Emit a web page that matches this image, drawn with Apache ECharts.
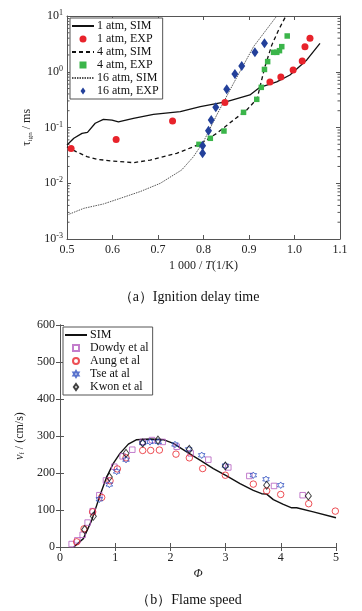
<!DOCTYPE html>
<html>
<head>
<meta charset="utf-8">
<script src="https://cdn.jsdelivr.net/npm/echarts@6/dist/echarts.min.js"></script>
<style>
  html, body { margin: 0; padding: 0; background: #fff; }
  #chart { width: 362px; height: 611px; }
</style>
</head>
<body>
<div id="chart"></div>
<script>
// (a) ignition delay time, tau_ign in ms vs 1000/T
const SIM1_X = [0.50, 0.515, 0.533, 0.545, 0.562, 0.580, 0.599, 0.613, 0.646, 0.690, 0.749, 0.793, 0.851, 0.902, 0.924, 0.961, 0.990, 1.027, 1.056]
const SIM1_Y = [0.0485, 0.064, 0.0785, 0.082, 0.119, 0.14, 0.136, 0.126, 0.146, 0.172, 0.192, 0.237, 0.29, 0.383, 0.525, 0.66, 0.875, 1.63, 3.24]
const EXP1_X = [0.509, 0.608, 0.732, 0.847, 0.946, 0.970, 0.997, 1.017, 1.023, 1.034]
const EXP1_Y = [0.042, 0.061, 0.131, 0.282, 0.654, 0.805, 1.07, 1.56, 2.82, 3.97]
const SIM4_X = [0.50, 0.52, 0.544, 0.566, 0.60, 0.646, 0.683, 0.741, 0.793, 0.829, 0.866, 0.895, 0.918, 0.926, 0.935, 0.95, 0.965, 0.981]
const SIM4_Y = [0.045, 0.037, 0.030, 0.0269, 0.025, 0.0234, 0.026, 0.0344, 0.0506, 0.0785, 0.136, 0.206, 0.33, 0.62, 1.23, 3.0, 5.6, 10]
const EXP4_X = [0.790, 0.815, 0.845, 0.888, 0.917, 0.927, 0.934, 0.941, 0.954, 0.961, 0.967, 0.972, 0.984]
const EXP4_Y = [0.0499, 0.064, 0.0865, 0.187, 0.32, 0.525, 1.10, 1.52, 2.23, 2.23, 2.39, 2.82, 4.38]
const SIM16_X = [0.50, 0.537, 0.580, 0.617, 0.661, 0.705, 0.752, 0.778, 0.800, 0.829, 0.866, 0.910, 0.961]
const SIM16_Y = [0.00269, 0.00355, 0.00425, 0.00536, 0.0071, 0.00997, 0.0173, 0.030, 0.0557, 0.167, 0.62, 2.82, 10]
const EXP16_X = [0.798, 0.798, 0.811, 0.817, 0.827, 0.851, 0.869, 0.884, 0.913, 0.934]
const EXP16_Y = [0.0344, 0.0472, 0.0877, 0.136, 0.230, 0.484, 0.912, 1.27, 2.23, 3.24]
// minor ticks of the log axis (2..9 per decade)
const MINOR_TICKS = [0.002, 0.003, 0.004, 0.005, 0.006, 0.007, 0.008, 0.009,
  0.02, 0.03, 0.04, 0.05, 0.06, 0.07, 0.08, 0.09,
  0.2, 0.3, 0.4, 0.5, 0.6, 0.7, 0.8, 0.9,
  2, 3, 4, 5, 6, 7, 8, 9]

// (b) flame speed, v_f in cm/s vs phi
const SIM_PHI = [0.25, 0.423, 0.574, 0.725, 0.845, 0.966, 1.087, 1.238, 1.389, 1.630, 1.872, 2.053, 2.295, 2.536, 2.778, 3.019, 3.261, 3.502, 3.653, 3.744, 3.865, 4.046, 4.197, 4.287, 4.589, 5.0]
const SIM_V = [0, 22.6, 72, 140, 189, 226, 253, 278, 290, 292, 290, 280, 257, 235, 212, 192, 171, 153, 144, 143, 128, 115, 106, 106, 95, 79]
const DOWDY_PHI = [0.211, 0.314, 0.411, 0.501, 0.592, 0.713, 0.833, 0.984, 1.135, 1.310, 1.498, 1.667, 1.860, 2.114, 2.367, 2.687, 3.049, 3.430, 3.877, 4.396]
const DOWDY_V = [8, 18, 33, 66, 97, 140, 180, 217, 245, 263, 284, 289, 284, 271, 253, 236, 215, 192, 165, 140]
const AUNG_PHI = [0.302, 0.435, 0.592, 0.755, 0.906, 1.039, 1.196, 1.498, 1.643, 1.800, 2.101, 2.343, 2.585, 2.995, 3.502, 3.744, 3.998, 4.505, 4.988]
const AUNG_V = [14, 49, 95, 134, 179, 211, 241, 261, 261, 262, 251, 241, 212, 194, 170, 152, 142, 117, 97]
const TSE_PHI = [0.713, 0.894, 1.027, 1.196, 1.498, 1.630, 1.781, 2.083, 2.331, 2.567, 2.995, 3.502, 3.732, 3.998]
const TSE_V = [129, 169, 204, 236, 281, 284, 284, 277, 264, 248, 220, 194, 183, 167]
const KWON_PHI = [0.447, 0.604, 0.894, 1.196, 1.498, 1.775, 2.343, 2.995, 3.744, 4.499]
const KWON_V = [47, 83, 189, 253, 281, 289, 264, 219, 167, 138]

const SERIF = '"Liberation Serif", "DejaVu Serif", serif'
const FRAME = '#555'
const HEXAGRAM = 'path://M10 0L12.887 5L18.66 5L15.77 10L18.66 15L12.887 15L10 20L7.113 15L1.34 15L4.23 10L1.34 5L7.113 5Z'
const SQUARE = 'path://M0 0H10V10H0Z'
const DIAMOND = 'path://M5 0L10 7L5 14L0 7Z'
const NO_MARK = { color: 'rgba(0,0,0,0)', borderColor: 'rgba(0,0,0,0)', borderWidth: 0 }

const zip = (xs, ys) => xs.map((x, i) => [x, ys[i]])

// legend entries: lines drawn without their marker, markers with their own shape
const LEGEND_A = [
  { name: '1 atm, SIM', itemStyle: NO_MARK },
  { name: '1 atm, EXP', icon: 'circle' },
  { name: '4 atm, SIM', itemStyle: NO_MARK },
  { name: '4 atm, EXP', icon: SQUARE },
  { name: '16 atm, SIM', itemStyle: NO_MARK },
  { name: '16 atm, EXP', icon: DIAMOND }
]
const LEGEND_B = [
  { name: 'SIM', itemStyle: NO_MARK },
  { name: 'Dowdy et al', icon: SQUARE },
  { name: 'Aung et al', icon: 'circle' },
  { name: 'Tse at al', icon: HEXAGRAM },
  { name: 'Kwon et al', icon: DIAMOND }
]

const chart = echarts.init(document.getElementById('chart'), null, { renderer: 'canvas' })

const baseAxis = {
  axisLine: { lineStyle: { color: FRAME, width: 1 } },
  axisTick: { inside: true, length: 4, lineStyle: { color: FRAME } },
  axisLabel: { color: '#222', fontFamily: SERIF, fontSize: 12 },
  splitLine: { show: false }
}
const mirror = extra => Object.assign({}, baseAxis, { axisLabel: { show: false } }, extra)

const legendBase = {
  orient: 'vertical', itemGap: 1, itemWidth: 22, itemHeight: 6, padding: [2, 4, 2, 1],
  backgroundColor: '#fff', borderColor: FRAME, borderWidth: 1, borderRadius: 0,
  symbolKeepAspect: true,
  textStyle: { fontFamily: SERIF, fontSize: 12, color: '#111', padding: [0, 0, 0, -2] }
}

const option = {
  animation: false,
  backgroundColor: '#fff',
  textStyle: { fontFamily: SERIF },
  title: [
    { text: '（a）Ignition delay time', left: 184, top: 285, textAlign: 'center',
      textStyle: { fontFamily: SERIF, fontSize: 14, fontWeight: 'normal', color: '#111' } },
    { text: '（b）Flame speed', left: 184, top: 588, textAlign: 'center',
      textStyle: { fontFamily: SERIF, fontSize: 14, fontWeight: 'normal', color: '#111' } }
  ],
  grid: [
    { left: 67, top: 16, width: 273, height: 223 },
    { left: 60, top: 325, width: 276, height: 222 }
  ],
  xAxis: [
    Object.assign({}, baseAxis, {
      gridIndex: 0, type: 'value', min: 0.5, max: 1.1, interval: 0.1,
      axisLabel: Object.assign({}, baseAxis.axisLabel, { margin: 5, formatter: v => v.toFixed(1) }),
      name: '1 000 / {i|T}(1/K)', nameLocation: 'middle', nameGap: 21,
      nameTextStyle: { fontFamily: SERIF, fontSize: 12, color: '#222',
        rich: { i: { fontStyle: 'italic', fontFamily: SERIF, fontSize: 12, color: '#222' } } }
    }),
    mirror({ gridIndex: 0, type: 'value', position: 'top', min: 0.5, max: 1.1, interval: 0.1 }),
    Object.assign({}, baseAxis, {
      gridIndex: 1, type: 'value', min: 0, max: 5, interval: 1,
      axisLabel: Object.assign({}, baseAxis.axisLabel, { margin: 5 }),
      name: 'Φ', nameLocation: 'middle', nameGap: 21,
      nameTextStyle: { fontFamily: SERIF, fontSize: 12, fontStyle: 'italic', color: '#222' }
    }),
    mirror({ gridIndex: 1, type: 'value', position: 'top', min: 0, max: 5, interval: 1 })
  ],
  yAxis: [
    Object.assign({}, baseAxis, {
      gridIndex: 0, type: 'log', logBase: 10, min: 0.001, max: 10,
      axisLabel: Object.assign({}, baseAxis.axisLabel, {
        margin: 4,
        formatter: v => '10{s|' + Math.round(Math.log10(v)) + '}',
        rich: { s: { fontSize: 8, verticalAlign: 'top', fontFamily: SERIF, color: '#222', padding: [0, 0, 6, 0] } }
      }),
      name: 'τ{s|ign} / ms', nameLocation: 'middle', nameGap: 33, nameRotate: 90,
      nameTextStyle: { fontFamily: SERIF, fontSize: 12, color: '#222',
        rich: { s: { fontSize: 7, fontFamily: SERIF, color: '#222', padding: [6, 0, 0, 0] } } }
    }),
    mirror({ gridIndex: 0, type: 'log', logBase: 10, min: 0.001, max: 10, position: 'right' }),
    Object.assign({}, baseAxis, {
      gridIndex: 1, type: 'value', min: 0, max: 600, interval: 100,
      axisLabel: Object.assign({}, baseAxis.axisLabel, { margin: 5 }),
      name: '{i|v}{s|f} / (cm/s)', nameLocation: 'middle', nameGap: 29, nameRotate: 90,
      nameTextStyle: { fontFamily: SERIF, fontSize: 12, color: '#222',
        rich: {
          i: { fontStyle: 'italic', fontFamily: SERIF, fontSize: 12, color: '#222' },
          s: { fontSize: 7, fontFamily: SERIF, color: '#222', padding: [6, 0, 0, 0] }
        } }
    }),
    mirror({ gridIndex: 1, type: 'value', min: 0, max: 600, interval: 100, position: 'right' })
  ],
  legend: [
    Object.assign({}, legendBase, { data: LEGEND_A, left: 70, top: 18, itemHeight: 7 }),
    Object.assign({}, legendBase, { data: LEGEND_B, left: 63, top: 327 })
  ],
  series: [
    // ---- (a) ----
    { name: '1 atm, SIM', type: 'line', xAxisIndex: 0, yAxisIndex: 0, symbol: 'none', z: 3,
      lineStyle: { color: '#111', width: 1.3 }, itemStyle: { color: '#111' }, data: zip(SIM1_X, SIM1_Y) },
    { name: '1 atm, EXP', type: 'scatter', xAxisIndex: 0, yAxisIndex: 0, symbol: 'circle', symbolSize: 7, z: 4,
      itemStyle: { color: '#e8232b', opacity: 1 }, data: zip(EXP1_X, EXP1_Y) },
    { name: '4 atm, SIM', type: 'line', xAxisIndex: 0, yAxisIndex: 0, symbol: 'none', z: 3,
      lineStyle: { color: '#111', width: 1.3, type: [4, 3] }, itemStyle: { color: '#111' }, data: zip(SIM4_X, SIM4_Y) },
    { name: '4 atm, EXP', type: 'scatter', xAxisIndex: 0, yAxisIndex: 0, symbol: 'rect', symbolSize: 5.5, z: 4,
      itemStyle: { color: '#3bb54a', opacity: 1 }, data: zip(EXP4_X, EXP4_Y) },
    { name: '16 atm, SIM', type: 'line', xAxisIndex: 0, yAxisIndex: 0, symbol: 'none', z: 3,
      lineStyle: { color: '#555', width: 1, type: [1.5, 1] }, itemStyle: { color: '#555' }, data: zip(SIM16_X, SIM16_Y) },
    { name: '16 atm, EXP', type: 'scatter', xAxisIndex: 0, yAxisIndex: 0, symbol: 'diamond', symbolSize: [7, 10], z: 4,
      itemStyle: { color: '#23409a', opacity: 1 }, data: zip(EXP16_X, EXP16_Y) },
    {
      type: 'custom', xAxisIndex: 0, yAxisIndex: 0, silent: true, clip: false, z: 1,
      data: MINOR_TICKS.map(v => [0.5, v]),
      encode: { x: 0, y: 1 },
      renderItem: (params, api) => {
        const cs = params.coordSys
        const p = api.coord([0.5, api.value(1)])
        const style = { stroke: FRAME, lineWidth: 1 }
        return {
          type: 'group',
          children: [
            { type: 'line', shape: { x1: cs.x, y1: p[1], x2: cs.x + 2.5, y2: p[1] }, style },
            { type: 'line', shape: { x1: cs.x + cs.width, y1: p[1], x2: cs.x + cs.width - 2.5, y2: p[1] }, style }
          ]
        }
      }
    },
    // ---- (b) ----
    { name: 'SIM', type: 'line', xAxisIndex: 2, yAxisIndex: 2, symbol: 'none', z: 3,
      lineStyle: { color: '#111', width: 1.4 }, itemStyle: { color: '#111' }, data: zip(SIM_PHI, SIM_V) },
    { name: 'Dowdy et al', type: 'scatter', xAxisIndex: 2, yAxisIndex: 2, symbol: 'rect', symbolSize: 5.5, z: 4,
      itemStyle: { color: 'rgba(0,0,0,0)', borderColor: '#b45cbf', borderWidth: 1 }, data: zip(DOWDY_PHI, DOWDY_V) },
    { name: 'Aung et al', type: 'scatter', xAxisIndex: 2, yAxisIndex: 2, symbol: 'circle', symbolSize: 6.5, z: 4,
      itemStyle: { color: 'rgba(0,0,0,0)', borderColor: '#e8232b', borderWidth: 1 }, data: zip(AUNG_PHI, AUNG_V) },
    { name: 'Tse at al', type: 'scatter', xAxisIndex: 2, yAxisIndex: 2, symbol: HEXAGRAM, symbolSize: 6.5, z: 4,
      itemStyle: { color: 'rgba(0,0,0,0)', borderColor: '#3050c0', borderWidth: 1 }, data: zip(TSE_PHI, TSE_V) },
    { name: 'Kwon et al', type: 'scatter', xAxisIndex: 2, yAxisIndex: 2, symbol: 'diamond', symbolSize: [6, 8], z: 4,
      itemStyle: { color: 'rgba(0,0,0,0)', borderColor: '#111', borderWidth: 1 }, data: zip(KWON_PHI, KWON_V) }
  ]
}

chart.setOption(option)
</script>
</body>
</html>
